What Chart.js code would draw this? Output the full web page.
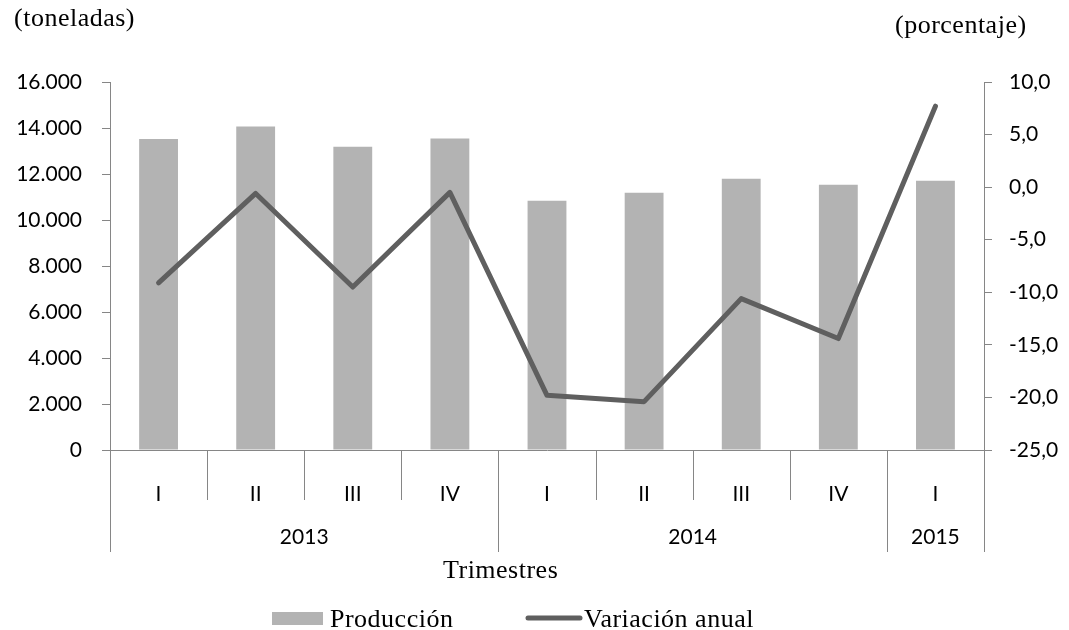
<!DOCTYPE html>
<html lang="es">
<head>
<meta charset="UTF-8">
<title>Producción trimestral</title>
<script src="https://cdn.jsdelivr.net/npm/chart.js"></script>
<style>
  body { margin: 0; background: #fff; }
  #wrap { width: 1069px; height: 630px; position: relative; }
</style>
</head>
<body>
<div id="wrap"><canvas id="chart"></canvas></div>
<script>
// datos
const trimestres = ['I', 'II', 'III', 'IV', 'I', 'II', 'III', 'IV', 'I'];
const anios = ['2013', '2013', '2013', '2013', '2014', '2014', '2014', '2014', '2015'];
const produccion = [13520, 14060, 13190, 13540, 10840, 11190, 11790, 11530, 11710];
const variacion = [-9.1, -0.6, -9.5, -0.5, -19.8, -20.4, -10.6, -14.4, 7.7];
const ticksToneladas = { min: 0, max: 16000, step: 2000 };
const ticksPorcentaje = { min: -25, max: 10, step: 5 };

const gris = '#868686';
const fuenteTicks = { family: 'Lato', size: 21 };
const serif = '26px "Liberation Serif"';

function miles(v) {
    return String(v).replace(/\B(?=(\d{3})+(?!\d))/g, '.');
}

// titulos, fila de años, separadores y leyenda
const extras = {
    id: 'extras',
    afterDraw(chart) {
        const ctx = chart.ctx;
        const x = chart.scales.x;
        const area = chart.chartArea;
        const base = area.bottom;

        ctx.save();
        ctx.strokeStyle = gris;
        ctx.lineWidth = 1;

        const bordes = [area.left];
        for (let i = 1; i < trimestres.length; i++) {
            const px = (x.getPixelForValue(i - 1) + x.getPixelForValue(i)) / 2;
            const cambio = anios[i] !== anios[i - 1];
            if (cambio) bordes.push(px);
            ctx.beginPath();
            ctx.moveTo(Math.round(px) + 0.5, base);
            ctx.lineTo(Math.round(px) + 0.5, base + (cambio ? 102 : 50));
            ctx.stroke();
        }
        bordes.push(area.right);
        [area.left, area.right].forEach(px => {
            ctx.beginPath();
            ctx.moveTo(Math.round(px) + 0.5, base);
            ctx.lineTo(Math.round(px) + 0.5, base + 102);
            ctx.stroke();
        });

        // años
        ctx.fillStyle = '#000';
        ctx.font = '21px Lato';
        ctx.textAlign = 'center';
        ctx.textBaseline = 'middle';
        const grupos = [...new Set(anios)];
        grupos.forEach((a, k) => {
            ctx.fillText(a, (bordes[k] + bordes[k + 1]) / 2, 537);
        });

        // titulos
        ctx.font = serif;
        ctx.letterSpacing = '0.5px';
        ctx.textAlign = 'left';
        ctx.fillText('(toneladas)', 14, 19);
        ctx.fillText('(porcentaje)', 895, 26);
        ctx.fillText('Trimestres', 443, 571);

        // leyenda
        ctx.fillStyle = chart.data.datasets[0].backgroundColor;
        ctx.fillRect(272, 612, 51, 13);
        ctx.fillStyle = '#000';
        ctx.fillText(chart.data.datasets[0].label, 330, 620);
        ctx.strokeStyle = chart.data.datasets[1].borderColor;
        ctx.lineWidth = 5;
        ctx.lineCap = 'round';
        ctx.beginPath();
        ctx.moveTo(528, 618);
        ctx.lineTo(580, 618);
        ctx.stroke();
        ctx.fillText(chart.data.datasets[1].label, 584, 620);
        ctx.restore();
    }
};

new Chart(document.getElementById('chart'), {
    type: 'bar',
    data: {
        labels: trimestres,
        datasets: [{
            type: 'bar',
            label: 'Producción',
            data: produccion,
            backgroundColor: '#b3b3b3',
            borderWidth: 0,
            barPercentage: 0.4,
            categoryPercentage: 1,
            yAxisID: 'y',
            order: 1
        }, {
            type: 'line',
            label: 'Variación anual',
            data: variacion,
            borderColor: '#5f5f5f',
            borderWidth: 5,
            borderJoinStyle: 'round',
            borderCapStyle: 'round',
            pointRadius: 0,
            tension: 0,
            fill: false,
            yAxisID: 'y1',
            order: 0
        }]
    },
    options: {
        responsive: true,
        maintainAspectRatio: false,
        animation: false,
        layout: { padding: { top: 82, left: 0, right: 0, bottom: 0 } },
        plugins: {
            legend: { display: false },
            tooltip: { enabled: false }
        },
        scales: {
            x: {
                offset: true,
                grid: { display: false },
                border: { display: true, color: gris },
                ticks: { font: fuenteTicks, color: '#000', padding: 24, maxRotation: 0 },
                afterFit(s) { s.height = 180; }
            },
            y: {
                position: 'left',
                min: ticksToneladas.min,
                max: ticksToneladas.max,
                ticks: {
                    stepSize: ticksToneladas.step,
                    font: fuenteTicks,
                    color: '#000',
                    padding: 20,
                    callback: v => miles(v)
                },
                grid: { drawOnChartArea: false, tickLength: 8, color: gris },
                border: { color: gris },
                afterFit(s) { s.width = 110; }
            },
            y1: {
                position: 'right',
                min: ticksPorcentaje.min,
                max: ticksPorcentaje.max,
                ticks: {
                    stepSize: ticksPorcentaje.step,
                    font: fuenteTicks,
                    color: '#000',
                    padding: 17,
                    callback: v => v.toFixed(1).replace('.', ',')
                },
                grid: { drawOnChartArea: false, tickLength: 8, color: gris },
                border: { color: gris },
                afterFit(s) { s.width = 85; }
            }
        }
    },
    plugins: [extras]
});
</script>
</body>
</html>
